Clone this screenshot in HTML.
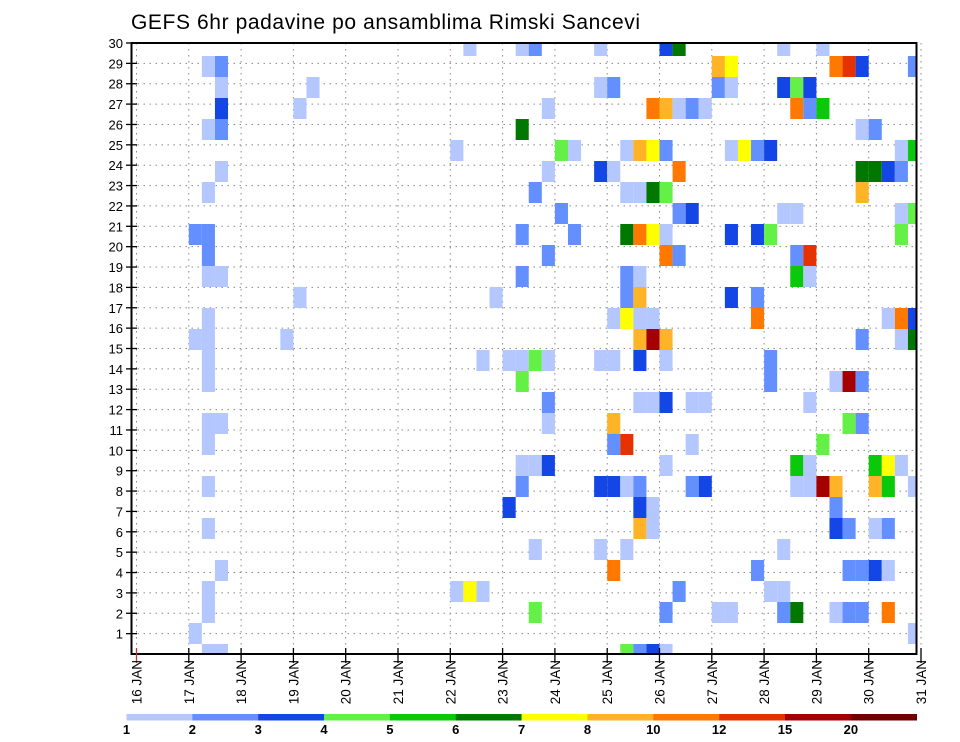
<!DOCTYPE html>
<html><head><meta charset="utf-8"><style>
html,body{margin:0;padding:0;background:#fff;}
svg{display:block;font-family:"Liberation Sans",sans-serif;}
</style></head><body>
<svg id="chart" width="960" height="742" viewBox="0 0 960 742" xmlns="http://www.w3.org/2000/svg">
<text x="131" y="29" font-size="21" fill="#000" letter-spacing="0.6">GEFS 6hr padavine po ansamblima Rimski Sancevi</text>
<g id="grid"></g>
<g id="cells"></g>
<g id="axes"></g>
<g id="legend"></g>
</svg>
<script>
const dayLabels = ["16 JAN","17 JAN","18 JAN","19 JAN","20 JAN","21 JAN","22 JAN","23 JAN","24 JAN","25 JAN","26 JAN","27 JAN","28 JAN","29 JAN","30 JAN","31 JAN"];
const memberLabels = [1,2,3,4,5,6,7,8,9,10,11,12,13,14,15,16,17,18,19,20,21,22,23,24,25,26,27,28,29,30];
const levelBounds = [1,2,3,4,5,6,7,8,10,12,15,20];
const levelLabels = ["1","2","3","4","5","6","7","8","10","12","15","20"];
const levelColors = ["#b4c8ff","#6490ff","#1446e6","#64f046","#0ac80a","#007800","#ffff00","#ffb428","#ff7800","#e63200","#a50000","#6e0000"];
const cellMember = [
28,28,27,27,26,26,25,25,23,22,20,20,19,18,18,17,16,15,15,15,14,13,11,11,10,8,6,4,3,2,1,0,0,
29,29,29,29,27,27,26,26,25,24,24,24,24,24,24,23,23,23,22,22,22,22,21,20,20,20,20,20,19,18,18,18,17,17,17,16,16,16,16,15,15,
14,14,14,14,14,14,14,14,13,12,12,12,11,11,10,10,9,9,9,8,8,8,8,8,7,7,7,6,6,5,5,5,4,3,3,3,2,0,0,0,
29,29,29,29,28,28,28,28,28,28,27,27,27,27,27,26,26,26,26,26,26,26,25,25,24,24,24,24,24,24,24,23,23,23,23,23,22,22,
21,21,21,21,21,21,20,20,20,20,20,19,19,19,19,18,18,17,17,16,16,16,16,15,15,15,15,14,14,13,13,13,13,12,12,12,12,11,11,10,10,
9,9,9,9,9,9,8,8,8,8,8,8,8,8,8,7,6,6,6,6,5,4,4,4,4,4,3,3,3,2,2,2,2,2,2,2,2,2,1,0];
const cellStep = [
5,6,6,13,6,12,5,6,6,5,4,5,5,5,6,12,5,4,5,11,5,5,5,6,5,5,5,6,5,5,4,5,6,
25,29,30,35,35,36,31,39,29,24,32,33,37,38,39,31,35,36,30,37,38,39,32,29,33,37,38,39,31,29,37,38,27,37,38,36,37,38,39,38,39,
26,28,29,30,31,35,36,38,29,31,38,39,31,36,36,37,29,30,31,29,35,36,37,38,28,38,39,38,39,30,35,37,36,24,25,26,30,37,38,39,
40,41,49,52,44,45,53,54,55,59,44,45,49,50,51,40,41,42,43,50,51,52,55,56,40,45,46,47,48,58,59,41,55,56,57,58,40,55,
41,42,49,50,58,59,40,45,47,48,58,40,41,50,51,50,51,45,47,47,57,58,59,40,55,58,59,40,48,48,53,54,55,40,42,43,51,54,55,42,52,
40,50,51,56,57,58,42,43,50,51,52,53,56,57,59,53,53,54,56,57,49,47,54,55,56,57,41,48,49,40,44,45,49,50,53,54,55,57,59,40];
const cellValue = [
1.5,2.5,1.5,1.5,3.5,1.5,1.5,2.5,1.5,1.5,2.5,2.5,2.5,1.5,1.5,1.5,1.5,1.5,1.5,1.5,1.5,1.5,1.5,1.5,1.5,1.5,1.5,1.5,1.5,1.5,1.5,1.5,1.5,
1.5,1.5,2.5,1.5,1.5,2.5,1.5,11,6.5,1.5,4.5,1.5,1.5,9,7.5,1.5,3.5,1.5,2.5,1.5,1.5,6.5,2.5,2.5,2.5,6.5,11,7.5,2.5,2.5,2.5,1.5,1.5,2.5,9,1.5,7.5,1.5,1.5,9,17,
1.5,1.5,1.5,4.5,1.5,1.5,1.5,3.5,4.5,2.5,1.5,1.5,1.5,9,2.5,13,1.5,1.5,3.5,2.5,3.5,3.5,1.5,2.5,3.5,3.5,1.5,9,1.5,1.5,1.5,1.5,11,1.5,7.5,1.5,4.5,4.5,2.5,3.5,
3.5,6.5,1.5,1.5,9,7.5,11,13,3.5,2.5,2.5,1.5,3.5,4.5,3.5,9,1.5,2.5,1.5,11,2.5,5.5,1.5,2.5,2.5,1.5,7.5,2.5,3.5,1.5,5.5,11,6.5,6.5,3.5,2.5,4.5,9,
2.5,3.5,1.5,1.5,1.5,4.5,1.5,3.5,3.5,4.5,4.5,11,2.5,2.5,13,5.5,1.5,3.5,2.5,11,1.5,11,3.5,9,2.5,1.5,6.5,1.5,2.5,2.5,1.5,17,2.5,3.5,1.5,1.5,1.5,4.5,2.5,1.5,4.5,
1.5,5.5,1.5,5.5,7.5,1.5,2.5,3.5,1.5,1.5,17,9,9,5.5,1.5,2.5,3.5,2.5,1.5,2.5,1.5,2.5,2.5,2.5,3.5,1.5,2.5,1.5,1.5,2.5,1.5,1.5,2.5,6.5,1.5,2.5,2.5,11,1.5,1.5];

const NS="http://www.w3.org/2000/svg";
const svg=document.getElementById('chart');
const L=131.5,R=916.5,T=43,B=654;
const x0=136.5, stepW=13.075;          // 6-hour steps
function xStep(k){return x0+k*stepW;}
function xDay(d){return x0+d*4*stepW;}
function yLabel(r){return B-r*(B-T)/30;}
function yCellTop(m){return 644-21*m;}
function colorFor(v){let c=null;for(let i=0;i<levelBounds.length;i++){if(v>=levelBounds[i])c=levelColors[i];}return c;}
function mk(tag,attrs,parent){const e=document.createElementNS(NS,tag);for(const a in attrs)e.setAttribute(a,attrs[a]);parent.appendChild(e);return e;}

// grid
const grid=document.getElementById('grid');
memberLabels.forEach(r=>{
  const l=mk('line',{x1:L,x2:R,y1:yLabel(r),y2:yLabel(r),stroke:'#888','stroke-width':1,'stroke-dasharray':'1.5,4.5'},grid);
  
  
});
dayLabels.forEach((d,i)=>{
  const l=mk('line',{x1:xDay(i),x2:xDay(i),y1:T,y2:B,stroke:'#888','stroke-width':1,'stroke-dasharray':'1.5,4.5'},grid);
  
  
});

// cells
const cells=document.getElementById('cells');
for(let i=0;i<cellValue.length;i++){
  const c=colorFor(cellValue[i]); if(!c) continue;
  let y1=yCellTop(cellMember[i]), y2=y1+21;
  y1=Math.max(y1,T); y2=Math.min(y2,B);
  let xa=xStep(cellStep[i]), xb=Math.min(xa+stepW,R);
  const r=mk('rect',{x:xa,y:y1,width:xb-xa,height:y2-y1,fill:c},cells);
  
  
}

// axes
const axes=document.getElementById('axes');
const fr=mk('rect',{x:L,y:T,width:R-L,height:B-T,fill:'none',stroke:'#000','stroke-width':2},axes);


memberLabels.forEach(r=>{
  const y=yLabel(r);
  const t=mk('line',{x1:126,x2:137,y1:y,y2:y,stroke:'#000','stroke-width':1.3},axes);
  
  
  const tx=mk('text',{x:123,y:y+5,'font-size':13,'text-anchor':'end',fill:'#000'},axes);
  tx.textContent=r;
  
  
});
dayLabels.forEach((d,i)=>{
  const x=xDay(i);
  const t=mk('line',{x1:x,x2:x,y1:B-6,y2:B+9,stroke:i===0?'#c33':'#000','stroke-width':1.3},axes);
  
  
  const tx=mk('text',{x:0,y:0,'font-size':13.5,'text-anchor':'end',fill:'#000',transform:`translate(${x+5},${660}) rotate(-90)`},axes);
  tx.textContent=d;
  
  
});

// colorbar
const leg=document.getElementById('legend');
const cbL=126.5, cbW=65.85;
levelColors.forEach((c,i)=>{
  const r=mk('rect',{x:cbL+i*cbW,y:714,width:cbW+0.3,height:6.5,fill:c},leg);
  
  
});
levelLabels.forEach((s,i)=>{
  const t=mk('text',{x:cbL+i*cbW,y:734,'font-size':13,'font-weight':'bold','text-anchor':'middle',fill:'#000'},leg);
  t.textContent=s;
  
  
});
</script>
</body></html>
